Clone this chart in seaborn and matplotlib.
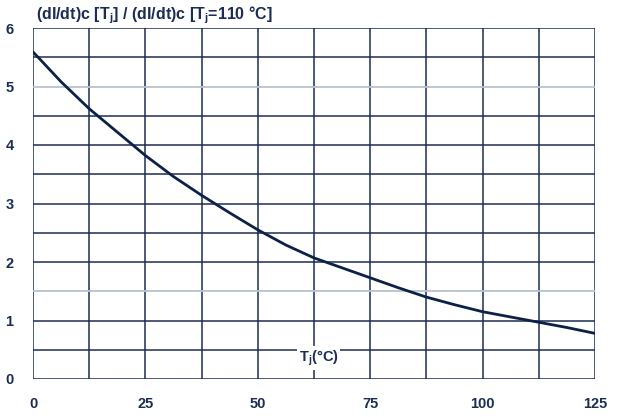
import matplotlib
matplotlib.use("Agg")
import matplotlib.pyplot as plt
import seaborn as sns
import pandas as pd

# Data
tj = [0, 1.5, 6.25, 12.5, 18.75, 25, 31.25, 37.5, 43.75, 50, 56.25, 62.5,
      68.75, 75, 81.25, 87.5, 93.75, 100, 106.25, 112.5, 118.75, 125]
ratio = [5.59, 5.47, 5.08, 4.62, 4.22, 3.82, 3.46, 3.14, 2.84, 2.55, 2.29, 2.07,
         1.90, 1.73, 1.56, 1.40, 1.27, 1.15, 1.06, 0.97, 0.88, 0.78]
x_ticks = [0, 25, 50, 75, 100, 125]
y_ticks = [0, 1, 2, 3, 4, 5, 6]

sns.set_theme(style="white")
plt.rcParams['font.family'] = ['Liberation Sans', 'DejaVu Sans']

navy = "#1b2d55"
line_c = "#0c2148"

fig = plt.figure(figsize=(6.2, 4.17), dpi=100)
ax = fig.add_axes([33/620, 1-379/417, (595-33)/620, (379-28)/417])

df = pd.DataFrame({"Tj": tj, "ratio": ratio})

# grid
for gx in [i * 12.5 for i in range(11)]:
    ax.axvline(gx, color=navy, lw=1.1, zorder=1)
for gy in [i * 0.5 for i in range(13)]:
    c = "#b9c2cf" if gy in (5.0, 1.5) else navy
    ax.axhline(gy, color=c, lw=1.3 if c != navy else 1.1, zorder=1)

sns.lineplot(data=df, x="Tj", y="ratio", ax=ax, color=line_c, lw=2.0, zorder=3)

ax.set_xlim(0, 125)
ax.set_ylim(0, 6)
ax.set_xticks(x_ticks)
ax.set_yticks(y_ticks)
ax.set_xticklabels([str(v) for v in x_ticks], fontsize=10.5, fontweight="bold", color=navy)
ax.set_yticklabels([str(v) for v in y_ticks], fontsize=10.5, fontweight="bold", color=navy)
ax.tick_params(axis="x", length=0, pad=13)
ax.tick_params(axis="y", length=0, pad=14)
ax.set_xlabel("")
ax.set_ylabel("")
for s in ax.spines.values():
    s.set_visible(False)

fig.text(36/620, 1-15/417, r"(dI/dt)c [T$_\mathregular{j}$] / (dI/dt)c [T$_\mathregular{j}$=110 °C]",
         fontsize=11.5, fontweight="bold", color=navy, va="center", ha="left")

ax.text(63.5, 0.36, r"T$_\mathregular{j}$(°C)", fontsize=10.5, fontweight="bold", color=navy,
        ha="center", va="center", zorder=4,
        bbox=dict(facecolor="white", edgecolor="none", pad=1.5))

fig.savefig("out.png", dpi=100, facecolor="white")
